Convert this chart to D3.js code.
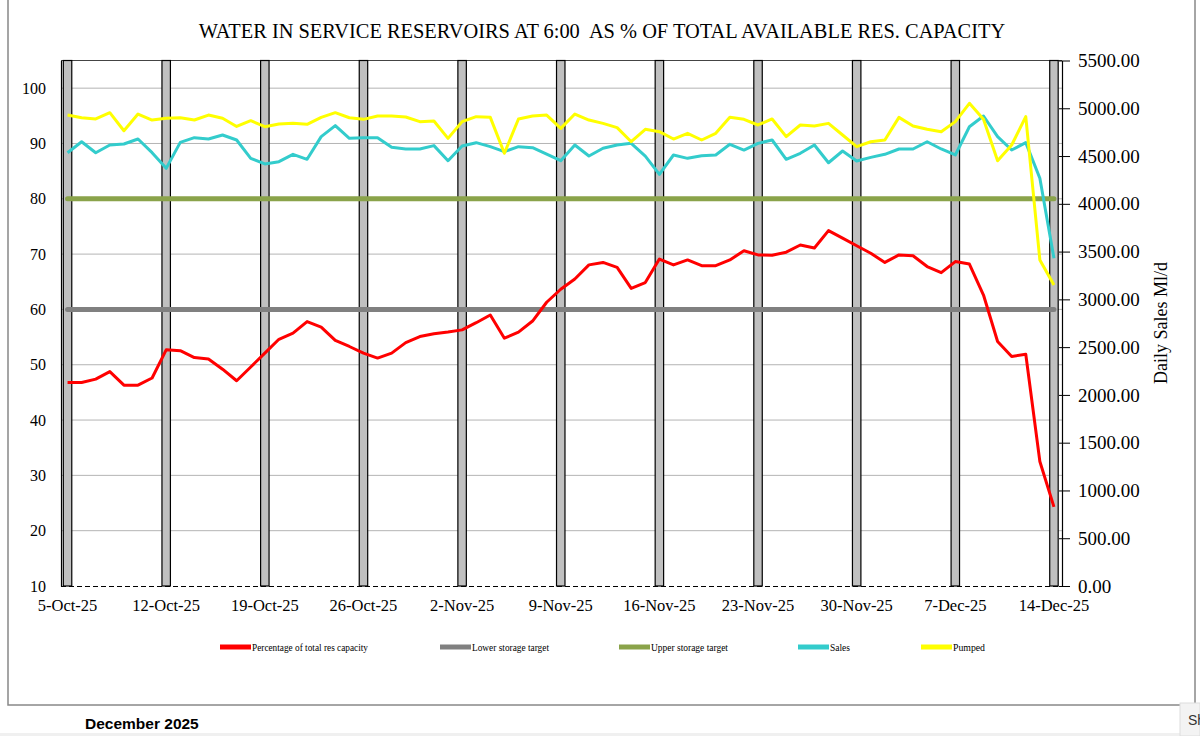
<!DOCTYPE html>
<html>
<head>
<meta charset="utf-8">
<script src="https://cdn.jsdelivr.net/npm/d3@7"></script>
<style>
  body { margin: 0; background: #fff; }
  svg { display: block; }
</style>
</head>
<body>
<div class="container"></div>
<script>
// values, one per day from 5-Oct-25 to 14-Dec-25
const pctCapacity = [46.8, 46.8, 47.4, 48.75, 46.3, 46.3, 47.6, 52.7, 52.55, 51.3, 51.05, 49.2, 47.1, 49.6,
  52.1, 54.6, 55.7, 57.8, 56.8, 54.4, 53.3, 52.1, 51.2, 52.1, 54.0, 55.1, 55.6, 55.9,
  56.3, 57.6, 59.0, 54.8, 55.9, 57.9, 61.3, 63.65, 65.5, 68.05, 68.5, 67.6, 63.8, 64.85,
  69.1, 68.05, 68.95, 67.9, 67.9, 68.95, 70.6, 69.85, 69.8, 70.35, 71.65, 71.1, 74.25, 72.9,
  71.5, 70.15, 68.5, 69.85, 69.7, 67.75, 66.65, 68.65, 68.2, 62.6, 54.2, 51.5, 51.9, 32.5, 24.3];

const sales = [4535, 4650, 4535, 4616, 4626, 4678, 4535, 4371, 4643, 4692, 4678, 4720, 4668, 4476,
  4417, 4441, 4518, 4466, 4703, 4818, 4685, 4692, 4692, 4591, 4574, 4574, 4609, 4451,
  4605, 4640, 4598, 4546, 4598, 4587, 4521, 4451, 4616, 4500, 4581, 4616, 4633, 4500,
  4309, 4511, 4476, 4504, 4511, 4623, 4563, 4633, 4668, 4466, 4529, 4616, 4430, 4553,
  4448, 4486, 4518, 4574, 4574, 4650, 4574, 4511, 4807, 4919, 4703, 4563, 4640, 4267, 3430];

const pumped = [4929, 4901, 4888, 4954, 4765, 4940, 4877, 4895, 4901, 4877, 4929, 4895, 4810, 4870,
  4807, 4835, 4842, 4832, 4905, 4954, 4901, 4884, 4919, 4919, 4909, 4860, 4867, 4685,
  4860, 4912, 4905, 4529, 4888, 4919, 4929, 4790, 4940, 4877, 4842, 4797, 4650, 4780,
  4755, 4678, 4738, 4668, 4738, 4905, 4884, 4825, 4888, 4703, 4825, 4814, 4842, 4720,
  4598, 4650, 4668, 4905, 4814, 4780, 4755, 4860, 5052, 4884, 4451, 4616, 4912, 3412, 3150];

const lowerTarget = 60;
const upperTarget = 80;

// weekly labels, also where the grey week bars stand
const tickLabels = ['5-Oct-25', '12-Oct-25', '19-Oct-25', '26-Oct-25', '2-Nov-25', '9-Nov-25',
  '16-Nov-25', '23-Nov-25', '30-Nov-25', '7-Dec-25', '14-Dec-25'];
const leftTicks = [10, 20, 30, 40, 50, 60, 70, 80, 90, 100];
const rightTicks = [0, 500, 1000, 1500, 2000, 2500, 3000, 3500, 4000, 4500, 5000, 5500];

const fmt = d3.timeFormat('%-d-%b-%y');
const days = d3.timeDay.range(new Date(2025, 9, 5), new Date(2025, 11, 15)).map(fmt);

const W = 1200, H = 736;
const pLeft = 61, pRight = 1062, pTop = 60.5, pBottom = 586;
const serif = '"Liberation Serif", "Times New Roman", serif';

const svg = d3.select('.container').append('svg')
  .attr('width', W).attr('height', H);

svg.append('rect').attr('width', W).attr('height', H).attr('fill', '#fff');

// outer chart frame
svg.append('rect')
  .attr('x', 8).attr('y', -2).attr('width', 1187).attr('height', 707)
  .attr('fill', 'none').attr('stroke', '#888').attr('stroke-width', 1.5);

const x = d3.scaleBand().domain(days).range([pLeft - 0.5, pRight - 1])
  .paddingInner(0.4).paddingOuter(0.2);
const cx = d => x(d) + x.bandwidth() / 2;
const yL = d3.scaleLinear().domain([10, 105]).range([pBottom, pTop]);
const yR = d3.scaleLinear().domain([0, 5500]).range([pBottom, pTop]);

// grid
svg.append('g')
  .selectAll('line').data(leftTicks.filter(t => t > 10)).join('line')
  .attr('x1', pLeft).attr('x2', pRight)
  .attr('y1', d => yL(d)).attr('y2', d => yL(d))
  .attr('stroke', '#b4b4b4').attr('stroke-width', 1);

// plot top edge
svg.append('line').attr('x1', pLeft).attr('x2', pRight).attr('y1', pTop).attr('y2', pTop)
  .attr('stroke', '#444').attr('stroke-width', 1);

// weekly bars
svg.append('g')
  .selectAll('rect').data(tickLabels).join('rect')
  .attr('x', d => x(d)).attr('width', x.bandwidth())
  .attr('y', yL(105)).attr('height', pBottom - yL(105))
  .attr('fill', '#c0c0c0').attr('stroke', '#000').attr('stroke-width', 1.2);

// axes
const gx = svg.append('g').attr('transform', `translate(0,${pBottom})`)
  .call(d3.axisBottom(x).tickValues(tickLabels).tickSize(0).tickPadding(13));
gx.select('.domain').attr('stroke', '#000').attr('stroke-dasharray', '5,3');
gx.selectAll('text').attr('font-family', serif).attr('font-size', 16.5).attr('fill', '#000');

const gl = svg.append('g').attr('transform', `translate(${pLeft},0)`)
  .call(d3.axisLeft(yL).tickValues(leftTicks).tickSize(0).tickPadding(15));
gl.select('.domain').attr('stroke', '#000').attr('stroke-width', 1.2);
gl.selectAll('text').attr('font-family', serif).attr('font-size', 16).attr('fill', '#000');

const gr = svg.append('g').attr('transform', `translate(${pRight},0)`)
  .call(d3.axisRight(yR).tickValues(rightTicks).tickFormat(d3.format('.2f'))
    .tickSizeInner(8).tickSizeOuter(0).tickPadding(8));
gr.select('.domain').attr('stroke', '#000').attr('stroke-width', 1.2);
gr.selectAll('.tick line').attr('x1', -3).attr('stroke', '#000');
gr.selectAll('text').attr('font-family', serif).attr('font-size', 19).attr('fill', '#000');

svg.append('text')
  .attr('transform', `translate(1167,323) rotate(-90)`)
  .attr('text-anchor', 'middle')
  .attr('font-family', serif).attr('font-size', 18)
  .text('Daily Sales Ml/d');

// target lines
const first = days[0], last = days[days.length - 1];
[[lowerTarget, '#808080'], [upperTarget, '#8aa34a']].forEach(([v, c]) => {
  svg.append('line')
    .attr('x1', cx(first)).attr('x2', cx(last))
    .attr('y1', yL(v)).attr('y2', yL(v))
    .attr('stroke', c).attr('stroke-width', 5).attr('stroke-linecap', 'round');
});

// series
const lineL = d3.line().x((d, i) => cx(days[i])).y(d => yL(d));
const lineR = d3.line().x((d, i) => cx(days[i])).y(d => yR(d));

svg.append('path').datum(pctCapacity).attr('d', lineL)
  .attr('fill', 'none').attr('stroke', '#ff0000').attr('stroke-width', 3).attr('stroke-linejoin', 'round');
svg.append('path').datum(sales).attr('d', lineR)
  .attr('fill', 'none').attr('stroke', '#33cccc').attr('stroke-width', 3).attr('stroke-linejoin', 'round');
svg.append('path').datum(pumped).attr('d', lineR)
  .attr('fill', 'none').attr('stroke', '#ffff00').attr('stroke-width', 3).attr('stroke-linejoin', 'round');

// title
svg.append('text')
  .attr('x', 602).attr('y', 38).attr('text-anchor', 'middle')
  .attr('xml:space', 'preserve')
  .attr('font-family', serif).attr('font-size', 20.4)
  .text('WATER IN SERVICE RESERVOIRS AT 6:00  AS % OF TOTAL AVAILABLE RES. CAPACITY');

// legend
const legendNames = ['Percentage of total res capacity', 'Lower storage target', 'Upper storage target', 'Sales', 'Pumped'];
const legendColors = ['#ff0000', '#808080', '#8aa34a', '#33cccc', '#ffff00'];
const legendX = [220, 440, 619, 798, 921];
const legendW = [116, 77, 77, 20, 32];
const lg = svg.append('g').attr('transform', 'translate(0,647)');
legendNames.forEach((n, i) => {
  lg.append('line').attr('x1', legendX[i]).attr('x2', legendX[i] + 31)
    .attr('stroke', legendColors[i]).attr('stroke-width', 5);
  lg.append('text').attr('x', legendX[i] + 32).attr('y', 4)
    .attr('font-family', serif).attr('font-size', 11)
    .attr('textLength', legendW[i]).attr('lengthAdjust', 'spacingAndGlyphs')
    .text(n);
});

// footer
svg.append('text').attr('x', 85).attr('y', 729)
  .attr('font-family', '"Liberation Sans", Arial, sans-serif').attr('font-weight', 'bold')
  .attr('font-size', 15.5).text('December 2025');

svg.append('rect').attr('x', 0).attr('y', 733).attr('width', W).attr('height', 3).attr('fill', '#f0f0f0');
svg.append('rect').attr('x', 1180).attr('y', 703).attr('width', 20).attr('height', 33)
  .attr('fill', '#f3f3f3').attr('stroke', '#ddd');
svg.append('text').attr('x', 1188).attr('y', 725)
  .attr('font-family', '"Liberation Sans", Arial, sans-serif').attr('font-size', 14)
  .attr('fill', '#333').text('Sh');
</script>
</body>
</html>
